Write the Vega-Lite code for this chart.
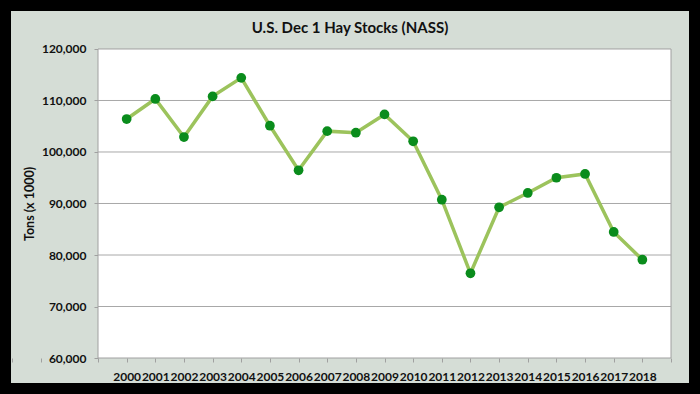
{
  "$schema": "https://vega.github.io/schema/vega-lite/v6.json",
  "width": 678,
  "height": 372,
  "autosize": "none",
  "padding": {"left": 11, "top": 11, "right": 11, "bottom": 11},
  "background": "#000000",
  "config": {
    "view": {"fill": "#d5ddd6", "stroke": null},
    "font": "Lato",
    "axisX": {
      "title": null,
      "values": [1999, 2000, 2001, 2002, 2003, 2004, 2005, 2006, 2007, 2008, 2009, 2010, 2011, 2012, 2013, 2014, 2015, 2016, 2017, 2018, 2019],
      "labelExpr": "datum.value < 2000 || datum.value > 2018 ? '' : format(datum.value, 'd')",
      "offset": -25,
      "domain": false,
      "grid": false,
      "tickSize": 4,
      "tickColor": "#a0a0a0",
      "labelFont": "Lato",
      "labelFontSize": 12,
      "labelFontWeight": "bold",
      "labelColor": "#111111",
      "labelPadding": 9,
      "labelOverlap": false,
      "labelBound": false,
      "labelFlush": false
    },
    "axisY": {
      "titleFont": "Lato",
      "titleFontSize": 12.5,
      "titleFontWeight": "bold",
      "titleColor": "#111111",
      "titlePadding": 5,
      "titleY": 192.5,
      "values": [60000, 70000, 80000, 90000, 100000, 110000, 120000],
      "labelExpr": "format(datum.value, ',')",
      "offset": -87,
      "domain": false,
      "grid": false,
      "tickSize": 4,
      "tickColor": "#a0a0a0",
      "labelFont": "Lato",
      "labelFontSize": 12,
      "labelFontWeight": "bold",
      "labelColor": "#111111",
      "labelPadding": 8,
      "labelOverlap": false
    }
  },
  "title": {
    "text": "U.S. Dec 1 Hay Stocks (NASS)",
    "font": "Lato",
    "fontSize": 15,
    "fontWeight": "bold",
    "color": "#111111",
    "anchor": "middle",
    "baseline": "alphabetic",
    "offset": -37
  },
  "datasets": {
    "hay": [
      {"year": 2000, "stocks": 106400},
      {"year": 2001, "stocks": 110300},
      {"year": 2002, "stocks": 102900},
      {"year": 2003, "stocks": 110800},
      {"year": 2004, "stocks": 114400},
      {"year": 2005, "stocks": 105100},
      {"year": 2006, "stocks": 96450},
      {"year": 2007, "stocks": 104050},
      {"year": 2008, "stocks": 103750},
      {"year": 2009, "stocks": 107300},
      {"year": 2010, "stocks": 102080},
      {"year": 2011, "stocks": 90740},
      {"year": 2012, "stocks": 76450},
      {"year": 2013, "stocks": 89260},
      {"year": 2014, "stocks": 92040},
      {"year": 2015, "stocks": 95000},
      {"year": 2016, "stocks": 95730},
      {"year": 2017, "stocks": 84470},
      {"year": 2018, "stocks": 79090}
    ],
    "gridlines": [
      {"level": 70000},
      {"level": 80000},
      {"level": 90000},
      {"level": 100000},
      {"level": 110000}
    ]
  },
  "layer": [
    {
      "data": {"values": [{"x0": 1999, "x1": 2019, "y0": 60000, "y1": 120000}]},
      "mark": {"type": "rect", "fill": "#ffffff", "stroke": "#a0a0a0", "strokeWidth": 1},
      "encoding": {
        "x": {"field": "x0", "type": "quantitative", "title": null,
          "scale": {"domain": [1995.963, 2019.628], "nice": false, "zero": false}},
        "x2": {"field": "x1"},
        "y": {"field": "y0", "type": "quantitative", "title": "Tons (x 1000)",
          "scale": {"domain": [55146, 127378], "nice": false, "zero": false}},
        "y2": {"field": "y1"}
      }
    },
    {
      "data": {"name": "gridlines"},
      "mark": {"type": "rule", "stroke": "#a8a8a8", "strokeWidth": 1},
      "encoding": {
        "y": {"field": "level", "type": "quantitative", "title": "Tons (x 1000)"},
        "x": {"datum": 1999, "type": "quantitative", "title": null},
        "x2": {"datum": 2019}
      }
    },
    {
      "data": {"name": "hay"},
      "mark": {"type": "line", "stroke": "#9cc35c", "strokeWidth": 3.5},
      "encoding": {
        "x": {"field": "year", "type": "quantitative", "title": null},
        "y": {"field": "stocks", "type": "quantitative", "title": "Tons (x 1000)"}
      }
    },
    {
      "data": {"name": "hay"},
      "mark": {"type": "point", "filled": true, "fill": "#0a8c1c", "opacity": 1, "size": 95, "shape": "circle"},
      "encoding": {
        "x": {"field": "year", "type": "quantitative", "title": null},
        "y": {"field": "stocks", "type": "quantitative", "title": "Tons (x 1000)"}
      }
    }
  ]
}
